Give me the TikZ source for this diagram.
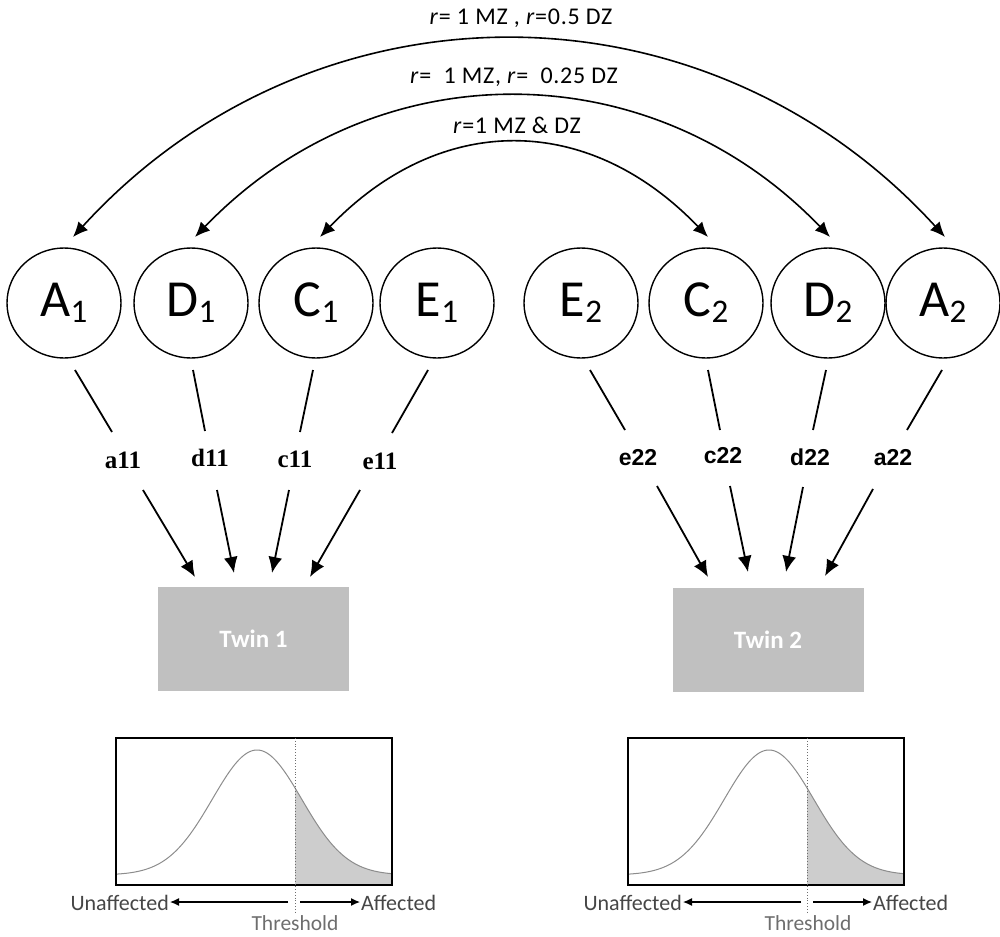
\documentclass[tikz,border=0pt]{standalone}
\usepackage{fontspec}
\setmainfont{Carlito}
\newfontfamily\coefserif{Liberation Serif}
\newfontfamily\coefsans{Liberation Sans}
\newfontfamily\corrfont[LetterSpace=3]{Carlito}
\usetikzlibrary{arrows.meta,shapes.geometric}
\definecolor{boxgray}{RGB}{192,192,192}
\definecolor{inkgray}{RGB}{70,70,70}
\definecolor{thrgray}{RGB}{110,110,110}
\definecolor{curvegray}{RGB}{140,140,140}
\definecolor{tailgray}{RGB}{205,205,205}
\newcommand\subidx[1]{\raisebox{-6pt}{\fontsize{33}{33}\selectfont #1}}

\begin{document}
\begin{tikzpicture}[x=1pt,y=-1pt,
  latent/.style={draw, ellipse, minimum width=114pt, minimum height=110pt,
    inner sep=0pt, line width=1.4pt, font=\fontsize{52}{52}\selectfont},
  corr/.style={font=\corrfont\fontsize{24}{24}\selectfont},
  dual/.style={line width=1.6pt, {Latex[length=15pt,width=13pt]}-{Latex[length=15pt,width=13pt]}},
  pathline/.style={line width=1.8pt},
  pathto/.style={line width=1.8pt, -{Latex[length=16pt,width=14pt]}},
  coefL/.style={font=\coefserif\bfseries\fontsize{25}{25}\selectfont},
  coefR/.style={font=\coefsans\bfseries\fontsize{23}{23}\selectfont},
  twin/.style={fill=boxgray, minimum width=191pt, minimum height=104pt,
    text=white, font=\bfseries\fontsize{25}{25}\selectfont},
  frame/.style={draw, line width=1.8pt},
  bell/.style={draw=curvegray, line width=1pt},
  tail/.style={fill=tailgray},
  thresh/.style={draw=thrgray, dotted, line width=0.8pt},
  side/.style={text=inkgray, inner sep=1pt, font=\fontsize{22}{22}\selectfont},
  thrlabel/.style={text=thrgray, inner sep=0pt, anchor=base, font=\fontsize{21.5}{21.5}\selectfont},
  sidearrow/.style={line width=1.2pt, -{Latex[length=9pt,width=8pt]}}
]
\useasboundingbox (0,0) rectangle (1000,936);

% latent factors
\node[latent] (A1) at (64,303)  {A\subidx{1}};
\node[latent] (D1) at (191,303) {D\subidx{1}};
\node[latent] (C1) at (316,303) {C\subidx{1}};
\node[latent] (E1) at (437,303) {E\subidx{1}};
\node[latent] (E2) at (581,303) {E\subidx{2}};
\node[latent] (C2) at (706,303) {C\subidx{2}};
\node[latent] (D2) at (828,303) {D\subidx{2}};
\node[latent] (A2) at (943,303) {A\subidx{2}};

% correlation labels
\node[corr] (rA) at (521,18)  {\textit{r}= 1 MZ , \textit{r}=0.5 DZ};
\node[corr] (rD) at (514,77)  {\textit{r}=\ \ 1 MZ, \textit{r}=\ \ 0.25 DZ};
\node[corr] (rC) at (517,125) {\textit{r}=1 MZ \& DZ};

% arc end points above the factors
\coordinate (A1t) at (73,237);
\coordinate (D1t) at (195,237);
\coordinate (C1t) at (320,237);
\coordinate (C2t) at (708,237);
\coordinate (D2t) at (830,237);
\coordinate (A2t) at (945,237);

\draw[dual] (A1t) .. controls (313,-26) and (705,-26) .. (A2t);
\draw[dual] (D1t) .. controls (375,50) and (650,50) .. (D2t);
\draw[dual] (C1t) .. controls (440,112) and (588,112) .. (C2t);

% path coefficients
\node[coefL] (a11) at (123,460) {a11};
\node[coefL] (d11) at (210,458) {d11};
\node[coefL] (c11) at (295,459) {c11};
\node[coefL] (e11) at (380,461) {e11};
\node[coefR] (e22) at (638,458) {e22};
\node[coefR] (c22) at (723,456) {c22};
\node[coefR] (d22) at (810,457) {d22};
\node[coefR] (a22) at (893,458) {a22};

% observed phenotypes
\node[twin] (T1) at (253.5,639) {Twin 1};
\node[twin] (T2) at (768,639.5) {Twin 2};

% factor-to-coefficient segments
\coordinate (A1o) at (75,370);  \coordinate (a11i) at (112,432);
\coordinate (D1o) at (193,370); \coordinate (d11i) at (205,431);
\coordinate (C1o) at (313,370); \coordinate (c11i) at (300,432);
\coordinate (E1o) at (428,370); \coordinate (e11i) at (392,433);
\coordinate (E2o) at (590,370); \coordinate (e22i) at (625,430);
\coordinate (C2o) at (708,370); \coordinate (c22i) at (720,430);
\coordinate (D2o) at (826,370); \coordinate (d22i) at (813,430);
\coordinate (A2o) at (942,370); \coordinate (a22i) at (907,430);
\foreach \s/\t in {A1o/a11i,D1o/d11i,C1o/c11i,E1o/e11i,E2o/e22i,C2o/c22i,D2o/d22i,A2o/a22i}
  \draw[pathline] (\s) -- (\t);

% coefficient-to-twin arrows
\coordinate (a11o) at (143,490); \coordinate (T1a) at (195,577);
\coordinate (d11o) at (217,490); \coordinate (T1d) at (234,573);
\coordinate (c11o) at (289,490); \coordinate (T1c) at (272,573);
\coordinate (e11o) at (360,490); \coordinate (T1e) at (310,577);
\coordinate (e22o) at (657,486); \coordinate (T2e) at (708,577);
\coordinate (c22o) at (730,486); \coordinate (T2c) at (748,572);
\coordinate (d22o) at (803,487); \coordinate (T2d) at (786,572);
\coordinate (a22o) at (873,489); \coordinate (T2a) at (825,576);
\foreach \s/\t in {a11o/T1a,d11o/T1d,c11o/T1c,e11o/T1e,e22o/T2e,c22o/T2c,d22o/T2d,a22o/T2a}
  \draw[pathto] (\s) -- (\t);

% liability distributions
\foreach \dx in {116,628}{
  \begin{scope}[shift={(\dx,0)}]
    \fill[tail] (179,885) -- plot[domain=179:276,samples=50]
      (\x,{875-125*exp(-0.5*((\x-141)/44.7)^2)}) -- (276,885) -- cycle;
    \draw[bell] plot[domain=0:276,samples=140]
      (\x,{875-125*exp(-0.5*((\x-141)/44.7)^2)});
    \draw[frame] (0,738) rectangle (276,885);
    \draw[thresh] (179,738) -- (179,914);
  \end{scope}
}

% liability axis labels
\node[side, anchor=base east] (U1) at (170,910) {Unaffected};
\node[side, anchor=base west] (F1) at (360,910) {Affected};
\node[thrlabel] (H1) at (295,930) {Threshold};
\coordinate (U1s) at (288,902);
\coordinate (F1s) at (300,902);
\draw[sidearrow] (U1s) -- (U1s -| U1.east);
\draw[sidearrow] (F1s) -- (F1s -| F1.west);

\node[side, anchor=base east] (U2) at (683,910) {Unaffected};
\node[side, anchor=base west] (F2) at (872,910) {Affected};
\node[thrlabel] (H2) at (808,930) {Threshold};
\coordinate (U2s) at (801,902);
\coordinate (F2s) at (813,902);
\draw[sidearrow] (U2s) -- (U2s -| U2.east);
\draw[sidearrow] (F2s) -- (F2s -| F2.west);
\end{tikzpicture}
\end{document}
